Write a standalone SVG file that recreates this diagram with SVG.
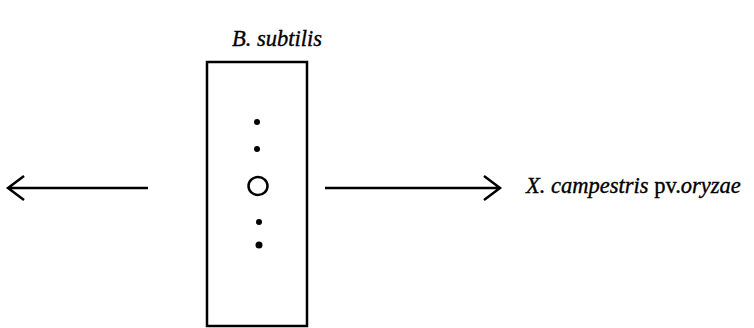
<svg xmlns="http://www.w3.org/2000/svg" width="754" height="328" viewBox="0 0 754 328">
<style>
.lbl{font-family:"Liberation Serif","Times New Roman",serif;font-size:22.5px;fill:#000;stroke:#000;stroke-width:0.35}
.it{font-style:italic}
.ln{stroke:#000;stroke-width:2.5;fill:none}
</style>
<rect width="754" height="328" fill="#fff"/>
<g id="strip">
<rect x="207" y="62" width="100" height="264" class="ln" stroke-width="3"/>
<circle cx="257" cy="122" r="3" fill="#000"/>
<circle cx="257" cy="149" r="3" fill="#000"/>
<ellipse cx="258" cy="186" rx="9.5" ry="9" class="ln" stroke-width="2.8"/>
<circle cx="259" cy="222" r="3" fill="#000"/>
<circle cx="259" cy="245" r="3.5" fill="#000"/>
</g>
<g id="label-top">
<text class="lbl it" x="232" y="46">B. subtilis</text>
</g>
<g id="label-right">
<text class="lbl" x="526" y="193"><tspan class="it">X. campestris</tspan> pv.<tspan class="it">oryzae</tspan></text>
</g>
<g id="connectors">
<path class="ln" d="M8,188 H148 M24,176 L8,188 L24,200"/>
<path class="ln" d="M325,188 H500 M484,176 L500,188 L484,200"/>
</g>
</svg>
